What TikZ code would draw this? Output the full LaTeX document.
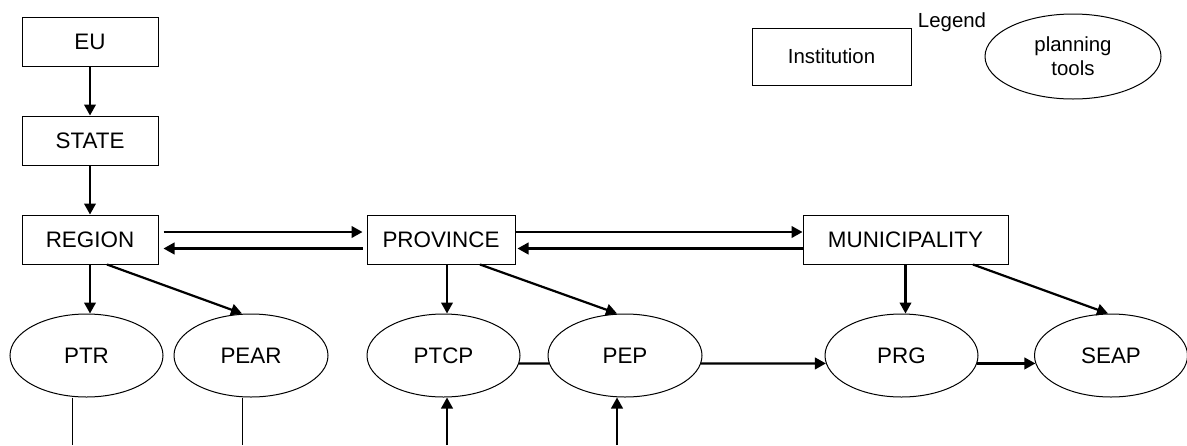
\documentclass[tikz,border=0pt]{standalone}
\usepackage{fontspec}
\setmainfont{Liberation Sans}
\usepackage{tikz}
\usetikzlibrary{positioning,shapes.geometric,arrows.meta}
\pgfdeclarelayer{nodelayer}
\pgfdeclarelayer{edgelayer}
\pgfsetlayers{main,nodelayer,edgelayer}
\tikzstyle{govChan}=[-{Triangle[length=5.5pt,width=5.8pt]}, black, line width=1.1pt]
\tikzstyle{plainChan}=[black, line width=1.1pt]
\tikzstyle{thinChan}=[black, line width=0.5pt]
\tikzstyle{institution}=[rectangle, draw=black, line width=0.5pt, minimum width=68pt, minimum height=24.5pt, inner sep=0pt, text centered, font=\fontsize{11.2}{13.4}\selectfont]
\tikzstyle{plan_tool}=[ellipse, draw=black, line width=0.5pt, minimum width=76.5pt, minimum height=41.5pt, inner sep=0pt, text centered, font=\fontsize{11.2}{13.4}\selectfont]
\tikzstyle{legend_item}=[font=\fontsize{10.2}{12}\selectfont]

\begin{document}
\begin{tikzpicture}[x=0.5pt, y=-0.5pt]
        \useasboundingbox (0,0) rectangle (1187,445);
        \begin{pgfonlayer}{nodelayer}
            % Institutions
            \node [style=institution] (EU) at (90, 41.5) {EU};
            \node [style=institution] (STATE) at (90, 140.5) {STATE};
            \node [style=institution] (REGION) at (90, 239.5) {REGION};
            \node [style=institution, minimum width=74pt] (PROVINCE) at (441, 239.5) {PROVINCE};
            \node [style=institution, minimum width=102.5pt] (MUNICIPALITY) at (905.5, 239.5) {MUNICIPALITY};

            % Planning tools
            \node [style=plan_tool] (PTR) at (86.5, 355.5) {PTR};
            \node [style=plan_tool, minimum width=77pt] (PEAR) at (251, 355.5) {PEAR};
            \node [style=plan_tool] (PTCP) at (443.5, 355.5) {PTCP};
            \node [style=plan_tool, minimum width=77pt] (PEP) at (625, 355.5) {PEP};
            \node [style=plan_tool] (PRG) at (901.5, 355.5) {PRG};
            \node [style=plan_tool] (SEAP) at (1111, 355.5) {SEAP};

            % Legend
            \node [style=institution, style=legend_item, minimum width=79.5pt, minimum height=28.5pt] (Institution) at (831.5, 56.5) {Institution};
            \node [style=legend_item, anchor=base, inner sep=0pt] (Legend) at (952, 27) {Legend};
            \node [style=plan_tool, style=legend_item, align=center, minimum width=88pt, minimum height=42.5pt] (PlanTools) at (1073, 56.5) {planning\\tools};

            \coordinate (ptrFoot) at (72.7, 445);
            \coordinate (pearFoot) at (242, 445);
            \coordinate (ptcpFoot) at (447, 445);
            \coordinate (pepFoot) at (617, 445);
        \end{pgfonlayer}
        \begin{pgfonlayer}{edgelayer}
            %Top down
            \draw [style={govChan}] (EU.south) -- (STATE.north);
            \draw [style={govChan}] (STATE.south) -- (REGION.north);

            % Between institutions
            \draw [style={govChan}, shorten <=2.5pt, shorten >=2pt] ([yshift=3.75pt]REGION.east) -- ([yshift=3.75pt]PROVINCE.west);
            \draw [style={govChan}, shorten <=2pt, shorten >=2.5pt] ([yshift=-4.5pt]PROVINCE.west) -- ([yshift=-4.5pt]REGION.east);
            \draw [style={govChan}] ([yshift=3.75pt]PROVINCE.east) -- ([yshift=3.75pt]MUNICIPALITY.west);
            \draw [style={govChan}, shorten >=1pt] ([yshift=-4.5pt]MUNICIPALITY.west) -- ([yshift=-4.5pt]PROVINCE.east);

            % To the tools
            \draw [style={govChan}] (REGION.south) -- (REGION.south |- PTR.north);
            \draw [style={govChan}] ([xshift=8.5pt]REGION.south) -- ([xshift=-4.5pt]PEAR.north);
            \draw [style={govChan}] ([xshift=3pt]PROVINCE.south) -- ([xshift=3pt]PROVINCE.south |- PTCP.north);
            \draw [style={govChan}] ([xshift=19.5pt]PROVINCE.south) -- ([xshift=-4pt]PEP.north);
            \draw [style={govChan}] (MUNICIPALITY.south) -- (MUNICIPALITY.south |- PRG.north);
            \draw [style={govChan}] ([xshift=33.75pt]MUNICIPALITY.south) -- ([xshift=-1.5pt]SEAP.north);

            % Between tools
            \draw [style={plainChan}] (PTCP.-6.5) -- (PEP.186.5);
            \draw [style={govChan}] (PEP.-6.5) -- (PRG.186.5);
            \draw [style={govChan}] (PRG.-6.5) -- (SEAP.186.5);

            % From below
            \draw [style={thinChan}] (ptrFoot |- PTR.south) -- (ptrFoot);
            \draw [style={thinChan}] (pearFoot |- PEAR.south) -- (pearFoot);
            \draw [style={govChan}] (ptcpFoot) -- (ptcpFoot |- PTCP.south);
            \draw [style={govChan}] (pepFoot) -- (pepFoot |- PEP.south);
        \end{pgfonlayer}
    \end{tikzpicture}
\end{document}
